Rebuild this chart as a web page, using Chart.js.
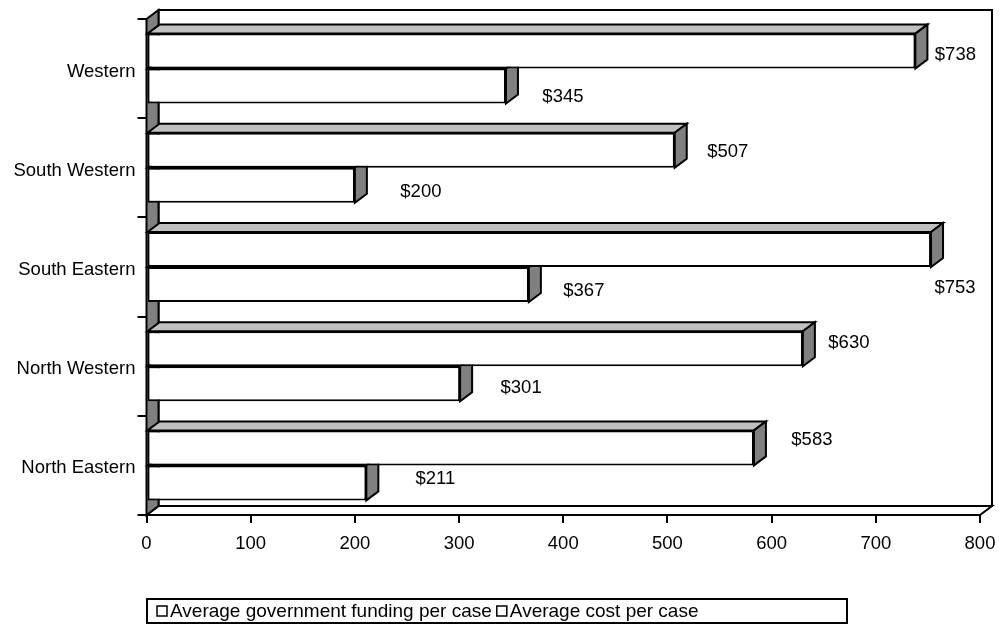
<!DOCTYPE html>
<html><head><meta charset="utf-8">
<script src="https://cdn.jsdelivr.net/npm/chart.js@4.4.1/dist/chart.umd.min.js"></script>
<style>html,body{margin:0;padding:0;background:#fff;}</style>
</head><body>
<canvas id="c" width="999" height="634"></canvas>
<script>
// ---- data ----
const categories = ['Western', 'South Western', 'South Eastern', 'North Western', 'North Eastern'];
const fundingValues = [738, 507, 753, 630, 583];
const costValues = [345, 200, 367, 301, 211];
const seriesNames = ['Average government funding per case', 'Average cost per case'];
const xTickValues = [0, 100, 200, 300, 400, 500, 600, 700, 800];

const FONT = '"Liberation Sans", Arial, sans-serif';
const DX = 12, DY = 9;

function poly(ctx, pts, fill) {
  ctx.beginPath();
  ctx.moveTo(pts[0][0], pts[0][1]);
  for (let i = 1; i < pts.length; i++) ctx.lineTo(pts[i][0], pts[i][1]);
  ctx.closePath();
  ctx.fillStyle = fill;
  ctx.fill();
  ctx.stroke();
}

const threeD = {
  id: 'threeD',
  beforeDatasetsDraw(chart) {
    const ctx = chart.ctx, a = chart.chartArea;
    ctx.save();
    ctx.lineWidth = 2; ctx.strokeStyle = '#000'; ctx.lineJoin = 'miter';
    // back wall
    ctx.fillStyle = '#fff';
    ctx.beginPath();
    ctx.rect(a.left + DX, a.top - DY, a.right - a.left, a.bottom - a.top);
    ctx.fill(); ctx.stroke();
    // floor
    poly(ctx, [[a.left, a.bottom], [a.left + DX, a.bottom - DY], [a.right + DX, a.bottom - DY], [a.right, a.bottom]], '#fff');
    // left side wall
    poly(ctx, [[a.left, a.top], [a.left + DX, a.top - DY], [a.left + DX, a.bottom - DY], [a.left, a.bottom]], '#808080');
    // bar top and end faces
    chart.data.datasets.forEach((ds, di) => {
      const meta = chart.getDatasetMeta(di);
      meta.data.forEach(el => {
        const p = el.getProps(['x', 'y', 'base', 'height'], true);
        const t = p.y - p.height / 2, b = p.y + p.height / 2;
        poly(ctx, [[p.base, t], [p.base + DX, t - DY], [p.x + DX, t - DY], [p.x, t]], '#c0c0c0');
        poly(ctx, [[p.x, t], [p.x + DX, t - DY], [p.x + DX, b - DY], [p.x, b]], '#808080');
      });
    });
    ctx.restore();
  },
  afterDatasetsDraw(chart, args, opts) {
    const ctx = chart.ctx;
    ctx.save();
    ctx.font = '18.5px ' + FONT;
    ctx.fillStyle = '#000';
    ctx.textAlign = 'center';
    ctx.textBaseline = 'middle';
    chart.data.datasets.forEach((ds, di) => {
      const meta = chart.getDatasetMeta(di);
      meta.data.forEach((el, i) => {
        const s = opts.labelShift[di][i];
        ctx.fillText('$' + ds.data[i], el.x + s[0], el.y + s[1]);
      });
    });
    ctx.restore();
  },
  afterDraw(chart, args, opts) {
    const ctx = chart.ctx, L = opts.legend;
    ctx.save();
    ctx.lineWidth = 2; ctx.strokeStyle = '#000';
    ctx.strokeRect(L.x, L.y, L.w, L.h);
    ctx.font = '19px ' + FONT;
    ctx.textBaseline = 'middle';
    ctx.textAlign = 'left';
    let x = L.itemStart;
    const cy = L.y + L.h / 2;
    chart.data.datasets.forEach(ds => {
      ctx.lineWidth = 1.5;
      ctx.fillStyle = ds.backgroundColor;
      ctx.fillRect(x, cy - 5, 10, 10);
      ctx.strokeRect(x, cy - 5, 10, 10);
      x += 13;
      ctx.fillStyle = '#000';
      ctx.fillText(ds.label, x, cy + 1);
      x += ctx.measureText(ds.label).width + 5;
    });
    ctx.restore();
  }
};

new Chart(document.getElementById('c'), {
  type: 'bar',
  data: {
    labels: categories,
    datasets: [
      { label: seriesNames[0], data: fundingValues, backgroundColor: '#fff', borderColor: '#000', borderWidth: 2, borderSkipped: false },
      { label: seriesNames[1], data: costValues, backgroundColor: '#fff', borderColor: '#000', borderWidth: 2, borderSkipped: false }
    ]
  },
  options: {
    indexAxis: 'y',
    responsive: false,
    animation: false,
    devicePixelRatio: 1,
    categoryPercentage: 0.7056,
    barPercentage: 1,
    layout: { padding: { left: 0, right: 19, top: 19, bottom: 69 } },
    font: { family: FONT },
    scales: {
      x: {
        min: 0, max: 800,
        afterBuildTicks: s => { s.ticks = xTickValues.map(v => ({ value: v })); },
        afterFit: s => { s.height = 50; s.paddingRight = 0; s.paddingLeft = 0; },
        grid: { drawOnChartArea: false, drawTicks: true, tickLength: 8, color: '#000', lineWidth: 2 },
        border: { display: true, color: '#000', width: 2 },
        ticks: { padding: 10, color: '#000', font: { size: 18.5, family: FONT } }
      },
      y: {
        afterFit: s => { s.width = 146.5; s.paddingTop = 0; s.paddingBottom = 0; },
        grid: { drawOnChartArea: false, drawTicks: true, tickLength: 9, color: '#000', lineWidth: 2 },
        border: { display: true, color: '#000', width: 2 },
        ticks: { padding: 2, labelOffset: 3, color: '#000', font: { size: 18.5, family: FONT } }
      }
    },
    plugins: {
      legend: { display: false },
      tooltip: { enabled: false },
      threeD: {
        labelShift: [
          [[40, 4], [53, 2], [24, 38], [46, -6], [58, -8]],
          [[57, 11], [66, 7], [55, 6], [61, 4], [69, -4]]
        ],
        legend: { x: 147, y: 599, w: 700, h: 24, itemStart: 157 }
      }
    }
  },
  plugins: [threeD]
});
</script>
</body></html>
